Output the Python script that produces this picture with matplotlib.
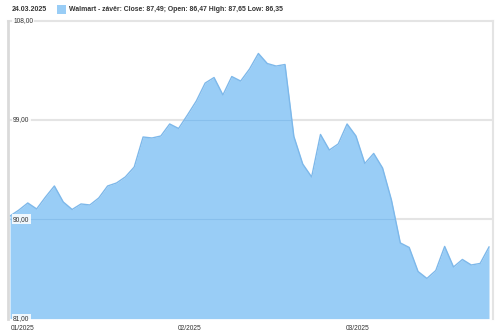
import numpy as np
import matplotlib.pyplot as plt
from matplotlib.patches import Rectangle

# Walmart daily close, Jan - Mar 2025
close = [90.30, 90.84, 91.48, 90.94, 92.02, 93.02, 91.57, 90.89, 91.39, 91.30,
         91.93, 93.02, 93.29, 93.84, 94.74, 97.46, 97.37, 97.55, 98.64, 98.23,
         99.45, 100.72, 102.35, 102.85, 101.27, 102.94, 102.53, 103.62, 105.03, 104.12,
         103.89, 104.03, 97.51, 95.01, 93.84, 97.69, 96.28, 96.83, 98.64, 97.55,
         95.06, 95.97, 94.65, 91.75, 87.86, 87.45, 85.27, 84.64, 85.36, 87.54,
         85.68, 86.36, 85.86, 86.00, 87.49]
month_pos = [0, 18.8, 37.8]
month_labels = ['01/2025', '02/2025', '03/2025']
y_ticks = [108, 99, 90, 81]
y_labels = ['108,00', '99,00', '90,00', '81,00']
header_date = '24.03.2025'
legend_text = 'Walmart - závěr: Close: 87,49; Open: 86,47 High: 87,65 Low: 86,35'

plt.rcParams['font.family'] = ['Liberation Sans', 'DejaVu Sans']

fig = plt.figure(figsize=(5, 3.32), dpi=100)
ax = fig.add_axes([8 / 500, 1 - 318.6 / 332, 485 / 500, (318.6 - 20.7) / 332])

x = np.arange(len(close))
area = ax.fill_between(x, close, 81, color='#99cdf6', lw=0, zorder=2)
ax.plot(x, close, color='#7db8ea', lw=1, zorder=3)

ax.set_xlim(-0.23, 54.45)
ax.set_ylim(81, 108)

# grid: gray on white, slightly darker blue where it runs under the area
clip = area.get_paths()[0]
for v in y_ticks[1:3]:
    ax.axhline(v, color='#e4e4e4', lw=1.5, zorder=1)
    ov = ax.axhline(v, color='#6aa7da', lw=0.8, alpha=0.35, zorder=2.5)
    ov.set_clip_path(clip, ax.transData)
for v, lab in zip(y_ticks, y_labels):
    ax.text(0.35, v, lab, fontsize=4.8, color='#333333', va='center', ha='left', zorder=5,
            bbox=dict(boxstyle='square,pad=0.2', fc='white', ec='none', alpha=0.85))

ax.set_xticks([])
ax.set_yticks([])
ax.spines['bottom'].set_visible(False)
for s in ['top', 'right']:
    ax.spines[s].set_color('#e4e4e4')
    ax.spines[s].set_linewidth(1.5)
ax.spines['left'].set_color('#dadada')
ax.spines['left'].set_linewidth(2)
ax.spines['left'].set_zorder(4)

for p, lab in zip(month_pos, month_labels):
    ax.text(p + 0.1, -0.02, lab, transform=ax.get_xaxis_transform(), fontsize=4.8,
            color='#333333', ha='left', va='top')

fig.text(12 / 500, 1 - 9.3 / 332, header_date, fontsize=5, fontweight='bold',
         color='#333333', va='center', ha='left')
fig.patches.append(Rectangle((57 / 500, 1 - 14 / 332), 9 / 500, 9 / 332,
                             transform=fig.transFigure, fc='#99cdf6', ec='none'))
fig.text(69 / 500, 1 - 9.3 / 332, legend_text, fontsize=4.95, fontweight='bold',
         color='#333333', va='center', ha='left')

fig.savefig('out.png', dpi=100)
